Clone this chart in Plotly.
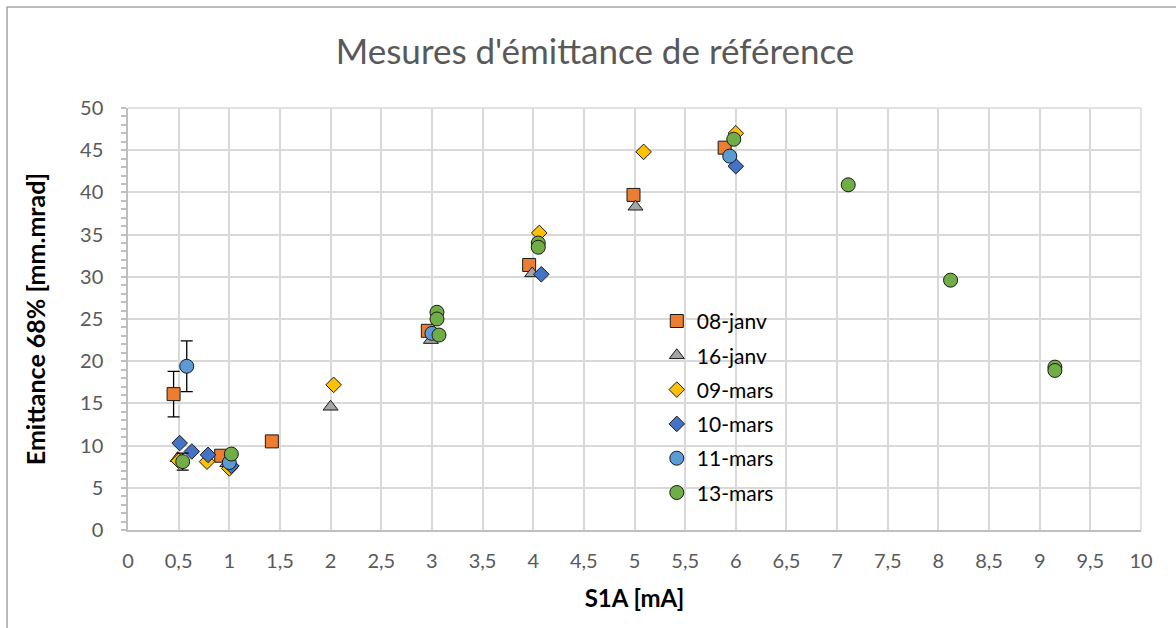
import plotly.graph_objects as go

# Reference emittance measurements per session
janv08_x = [0.45, 0.92, 1.42, 2.96, 3.96, 4.99, 5.89]
janv08_y = [16.1, 8.8, 10.5, 23.6, 31.4, 39.7, 45.3]
janv08_err = [2.7, 0, 0, 0, 0, 0, 0]

janv16_x = [0.49, 0.98, 2.0, 2.99, 3.99, 5.01]
janv16_y = [8.5, 7.9, 14.6, 22.5, 30.4, 38.3]

mars09_x = [0.5, 0.78, 1.0, 2.03, 4.06, 5.09, 6.0]
mars09_y = [8.2, 8.1, 7.3, 17.2, 35.2, 44.8, 47.0]

mars10_x = [0.51, 0.63, 0.79, 1.02, 4.08, 6.0]
mars10_y = [10.3, 9.3, 8.9, 7.6, 30.3, 43.1]

mars11_x = [0.58, 1.0, 3.0, 5.94]
mars11_y = [19.4, 8.0, 23.3, 44.3]
mars11_err = [3.0, 0, 0, 0]

mars13_x = [0.54, 1.02, 3.05, 3.05, 3.07, 4.05, 4.05, 5.98, 7.11, 8.12, 9.15, 9.15]
mars13_y = [8.1, 9.0, 25.8, 25.0, 23.1, 34.0, 33.5, 46.3, 40.9, 29.6, 19.3, 18.9]
mars13_err = [1.0, 0, 0, 0, 0, 0, 0, 0, 0, 0, 0, 0]

x_ticks = [i * 0.5 for i in range(21)]
x_ticktext = [("%g" % v).replace(".", ",") for v in x_ticks]

FONT = "Lato"
GRAY_TXT = "#595959"
GRID = "#D9D9D9"

series = [
    ("08-janv", janv08_x, janv08_y, janv08_err, "square", "#ED7D31", 13),
    ("16-janv", janv16_x, janv16_y, None, "triangle-up", "#A5A5A5", 13),
    ("09-mars", mars09_x, mars09_y, None, "diamond", "#FFC000", 12),
    ("10-mars", mars10_x, mars10_y, None, "diamond", "#4472C4", 12),
    ("11-mars", mars11_x, mars11_y, mars11_err, "circle", "#5B9BD5", 14),
    ("13-mars", mars13_x, mars13_y, mars13_err, "circle", "#70AD47", 14),
]

fig = go.Figure()
for name, xs, ys, err, sym, col, size in series:
    kw = {}
    if err is not None:
        kw["error_y"] = dict(type="data", array=err, visible=True,
                             color="#000000", thickness=1.3, width=6)
    fig.add_trace(go.Scatter(
        x=xs, y=ys, mode="markers", name=name, legendgroup=name,
        marker=dict(symbol=sym, color=col, size=size,
                    line=dict(color="#1a1a1a", width=1)),
        **kw,
    ))

fig.update_layout(
    width=1176, height=628,
    margin=dict(l=128, r=35, t=108, b=98),
    paper_bgcolor="white", plot_bgcolor="white",
    font=dict(family=FONT, color=GRAY_TXT),
    title=dict(text="Mesures d'émittance de référence",
               x=0.506, xanchor="center", y=0.917, yanchor="middle",
               font=dict(family=FONT, size=35, color=GRAY_TXT)),
    showlegend=True,
    legend=dict(x=0.522, y=0.543, xanchor="left", yanchor="top",
                bgcolor="rgba(0,0,0,0)", font=dict(family=FONT, size=21, color="#000000"),
                itemwidth=30, tracegroupgap=4),
)

fig.update_xaxes(
    range=[0, 10], tickvals=x_ticks, ticktext=x_ticktext,
    showgrid=True, gridcolor=GRID, gridwidth=1.5,
    showline=True, linecolor="#BFBFBF", linewidth=1.5, mirror=False,
    zeroline=False, ticks="", ticklabelstandoff=12,
    tickfont=dict(family=FONT, size=20, color=GRAY_TXT),
    title=dict(text="<b>S1A [mA]</b>", standoff=19,
               font=dict(family=FONT, size=24, color="#000000")),
)
fig.update_yaxes(
    range=[0, 50], dtick=5,
    showgrid=True, gridcolor=GRID, gridwidth=1.5,
    showline=True, linecolor="#BFBFBF", linewidth=1.5,
    zeroline=False, ticks="outside", ticklen=5, tickcolor="#BFBFBF", tickwidth=1.5,
    ticklabelstandoff=14,
    minor=dict(dtick=1, ticks="outside", ticklen=5, tickcolor="#BFBFBF", tickwidth=1.5, showgrid=False),
    tickfont=dict(family=FONT, size=20, color=GRAY_TXT),
    title=dict(text="<b>Emittance 68% [mm.mrad]</b>", standoff=27,
               font=dict(family=FONT, size=25, color="#000000")),
)

# Chart frame and plot-area edges
fig.add_shape(type="rect", xref="paper", yref="paper",
              x0=-0.1194, y0=-0.25, x1=1.05, y1=1.2393,
              line=dict(color="#A6A6A6", width=1.5), layer="below")
fig.add_shape(type="line", xref="paper", yref="paper", x0=0, x1=1, y0=1, y1=1,
              line=dict(color=GRID, width=1.5), layer="below")
fig.add_shape(type="line", xref="paper", yref="paper", x0=1, x1=1, y0=0, y1=1,
              line=dict(color=GRID, width=1.5), layer="below")

fig.write_html("out.html")
